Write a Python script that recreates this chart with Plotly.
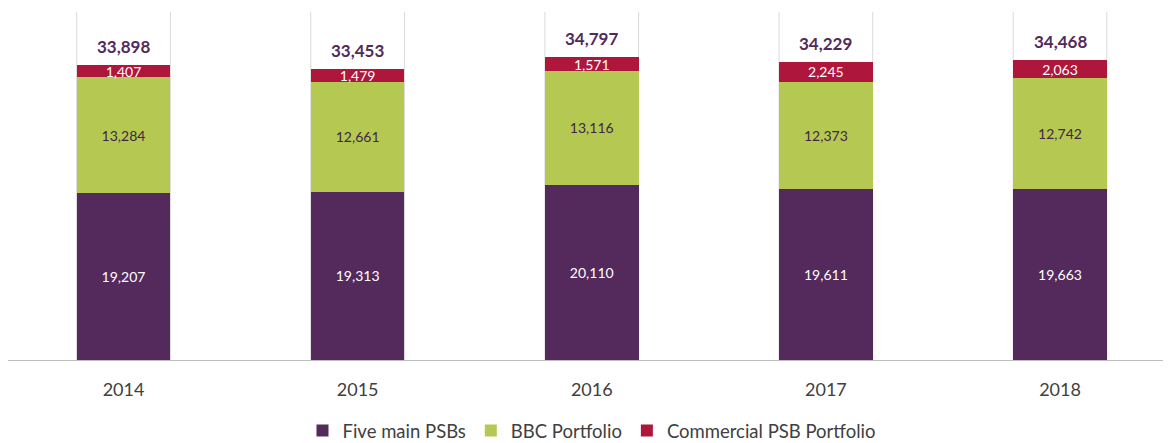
import plotly.graph_objects as go

years = ["2014", "2015", "2016", "2017", "2018"]
five_main = [19207, 19313, 20110, 19611, 19663]
bbc = [13284, 12661, 13116, 12373, 12742]
commercial = [1407, 1479, 1571, 2245, 2063]
totals = [33898, 33453, 34797, 34229, 34468]

PURPLE = "#532a5b"
GREEN = "#b5c952"
RED = "#ae163b"
FONT = "Lato, 'Open Sans', sans-serif"
BAR_W = 0.4

# page has an 8px body margin, so the figure is drawn slightly smaller
FIG_W, FIG_H = 1163, 435
PLOT_T, PLOT_H = 4, 348
C0, STEP = 115.5, 234.125  # pixel centre of first category and spacing

def fmt(v):
    return f"{v:,}"

fig = go.Figure()
for name, vals, col, tcol in [
    ("Five main PSBs", five_main, PURPLE, "white"),
    ("BBC Portfolio", bbc, GREEN, "#3f2546"),
    ("Commercial PSB Portfolio", commercial, RED, "white"),
]:
    fig.add_trace(go.Bar(x=years, y=vals, name=name, marker_color=col,
                         marker_line_width=0, width=BAR_W,
                         text=[fmt(v) for v in vals], textposition="inside",
                         insidetextanchor="middle", constraintext="none",
                         textangle=0,
                         textfont=dict(color=tcol, size=14, family=FONT)))

annotations = [
    dict(x=i, y=t, xref="x", yref="y", text=f"<b>{fmt(t)}</b>",
         showarrow=False, yanchor="bottom", yshift=6,
         font=dict(color=PURPLE, size=17, family=FONT))
    for i, t in enumerate(totals)
]

YMAX = 40000
shapes = []
for i in range(len(years)):
    for dx in (-BAR_W / 2, BAR_W / 2):
        shapes.append(dict(type="line", xref="x", yref="y",
                           x0=i + dx, x1=i + dx, y0=0, y1=YMAX,
                           line=dict(color="#d9d9d9", width=1), layer="below"))

x_lo = -C0 / STEP
x_hi = (FIG_W - C0) / STEP
leg_y = (PLOT_T + PLOT_H - 423) / PLOT_H

fig.update_layout(
    barmode="stack",
    width=FIG_W, height=FIG_H,
    margin=dict(l=0, r=0, t=PLOT_T, b=FIG_H - PLOT_T - PLOT_H, autoexpand=False),
    paper_bgcolor="white", plot_bgcolor="white",
    font=dict(family=FONT, color="#404040"),
    shapes=shapes, annotations=annotations,
    xaxis=dict(type="category", range=[x_lo, x_hi], showgrid=False,
               showline=True, linecolor="#bfbfbf", linewidth=1,
               ticks="", ticklabelstandoff=13,
               tickfont=dict(size=18, color="#404040", family=FONT)),
    yaxis=dict(range=[0, YMAX], visible=False, showgrid=False, zeroline=False),
    legend=dict(orientation="h", x=584 / FIG_W, xanchor="center",
                y=leg_y, yanchor="middle",
                font=dict(size=18.5, color="#404040", family=FONT),
                traceorder="normal", itemwidth=30),
    showlegend=True,
)

fig.write_html("out.html")
